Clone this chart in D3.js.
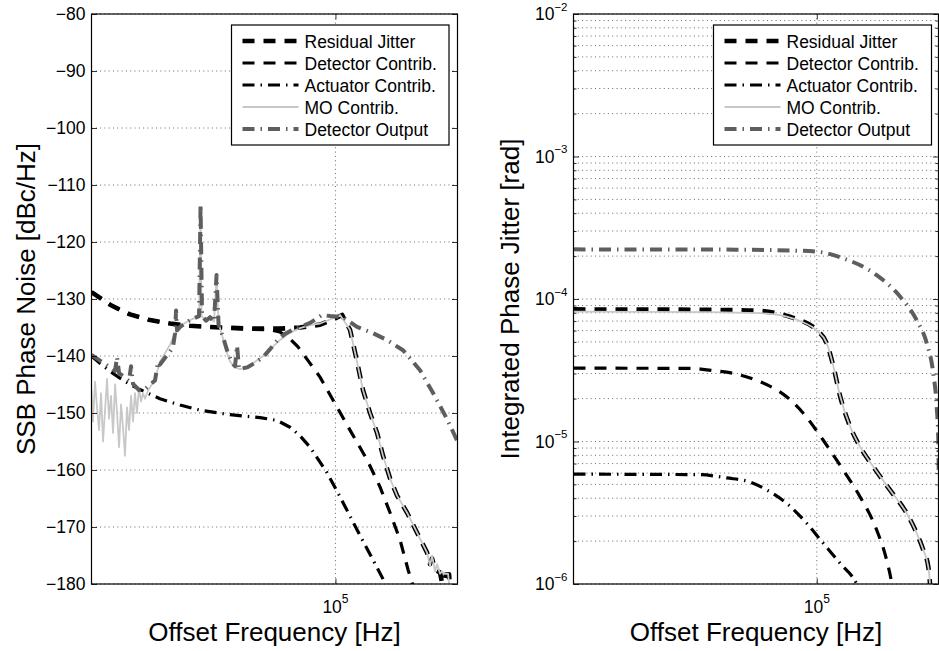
<!DOCTYPE html>
<html>
<head>
<meta charset="utf-8">
<script src="https://cdn.jsdelivr.net/npm/d3@7"></script>
<style>
  body { margin: 0; background: #fff; }
  text { font-family: "Liberation Sans", Arial, Helvetica, sans-serif; fill: #000; }
</style>
</head>
<body>
<svg id="fig" width="939" height="651"></svg>
<script>
// ---- axis settings -------------------------------------------------------
const freqDomain = [1.25e4, 2.83e5];
const freqTicks = [1e5];
const psdTicks = [-180, -170, -160, -150, -140, -130, -120, -110, -100, -90, -80];
const jitterDomain = [1e-6, 1e-2];
const jitterDecades = [1e-6, 1e-5, 1e-4, 1e-3, 1e-2];
const legendLabels = ["Residual Jitter", "Detector Contrib.", "Actuator Contrib.", "MO Contrib.", "Detector Output"];

// ---- SSB phase noise, [frequency Hz, dBc/Hz] -----------------------------
const psdResidual = [
  [12500, -128.8], [13440, -129.8], [14640, -131.0], [15940, -131.9], [17360, -132.7],
  [20590, -133.7], [24420, -134.3], [28950, -134.7], [37390, -135.0], [48280, -135.2],
  [62350, -135.2], [73930, -135.0], [87690, -134.5], [99660, -133.4], [105800, -132.8],
  [113200, -135.4], [120200, -141], [126500, -146], [134300, -150], [142600, -153.5],
  [150000, -157.5], [159300, -161.5], [169100, -164.5], [184200, -167.5], [200500, -171],
  [218300, -174.5], [223900, -176.5], [227800, -175.5], [233700, -177.5], [243900, -178],
  [248100, -179.8], [252400, -179.8], [256700, -178.3], [263400, -178.3], [265600, -181]
];
const psdDetector = [
  [12500, -128.8], [13440, -129.8], [14640, -131.0], [15940, -131.9], [17360, -132.7],
  [20590, -133.7], [24420, -134.3], [28950, -134.7], [37390, -135.0], [48280, -135.3],
  [57270, -135.4], [62350, -135.8], [67900, -137.0], [72680, -138.4], [80540, -141.3],
  [87690, -143.7], [101400, -149], [113200, -153], [130900, -158.2], [146300, -163],
  [159300, -167.5], [173500, -172.3], [185700, -177.5], [192200, -179.8], [195400, -181]
];
const psdActuator = [
  [12500, -140.0], [13440, -141.3], [14640, -142.7], [15940, -143.9], [17360, -145.0],
  [19730, -146.3], [22410, -147.5], [26590, -148.6], [31530, -149.5], [40720, -150.3],
  [52590, -150.8], [60790, -151.3], [67900, -152.5], [73930, -154], [80540, -156],
  [93090, -160.5], [104000, -164.7], [120200, -170.5], [137800, -175.8], [152600, -179.8],
  [156600, -181]
];
const psdMO = [
  [12500, -146], [12660, -151.5], [12880, -144.5], [13100, -149], [13330, -153],
  [13560, -146.5], [13790, -155], [14030, -149.5], [14270, -144], [14510, -151],
  [14760, -147], [15020, -153.5], [15280, -145], [15540, -150], [15810, -156],
  [16080, -148.5], [16350, -152.5], [16630, -157.5], [16920, -149], [17210, -153],
  [17510, -147], [17810, -151.5], [18110, -146.5], [18420, -150], [18740, -145.5],
  [19060, -148], [19390, -146.5], [19730, -147.5], [20240, -146], [20590, -145.5],
  [21480, -144], [22410, -141], [23400, -139.5], [24420, -138], [25480, -136],
  [26590, -134.8], [27750, -134.2], [28950, -133.7], [30210, -133.3], [31260, -133],
  [31670, -114], [31940, -133], [32900, -133.6], [34340, -133.1], [35520, -134],
  [36290, -126], [36920, -134.3], [38040, -136.3], [39360, -139], [40720, -141],
  [42490, -142], [44340, -142.3], [47070, -142], [50390, -141], [53940, -140],
  [57270, -138.8], [62350, -137.2], [67900, -135.9], [73930, -135.1], [80540, -134.6],
  [87690, -134.3], [95500, -133.6], [104000, -132.8], [113200, -135.4], [120200, -141],
  [126500, -146], [134300, -150], [142600, -153.5], [150000, -157.5], [159300, -161.5],
  [169100, -164.5], [184200, -167.5], [200500, -171], [218300, -174.5], [223900, -176.8],
  [227800, -175], [233700, -177.8], [237700, -176.5], [243900, -178.2], [248100, -177.8],
  [252400, -178.2], [261200, -178.2], [264500, -181]
];
const psdDetOut = [
  [12500, -139.8], [13440, -140.8], [14640, -142.0], [15280, -142.6], [15540, -140.2],
  [15810, -143.0], [16630, -143.8], [17210, -144.4], [17510, -141.8], [17810, -144.9],
  [18740, -146], [19730, -145.8], [20590, -145], [21480, -144.3], [22040, -141.0],
  [22410, -141.5], [23400, -140.3], [24420, -139.2], [25040, -138.4], [25480, -136],
  [25700, -132], [25920, -135.5], [26590, -134.9], [27750, -134.3], [28950, -133.7],
  [30210, -133.3], [31260, -133], [31670, -113.5], [32070, -133], [33180, -133.8],
  [34340, -133.2], [35520, -134], [36290, -125.8], [36920, -134.5], [38360, -136.7],
  [39690, -139], [41420, -141.2], [42490, -141.8], [43220, -138.2], [43970, -142.3],
  [47070, -142], [50390, -141.2], [53940, -140.2], [57270, -138.8], [61000, -137.2],
  [64740, -136.2], [69300, -135.4], [80540, -134.2], [89190, -132.8], [95500, -133],
  [106700, -133.2], [120200, -134.9], [137800, -136], [155200, -137.2], [177900, -139],
  [205700, -142.5], [229800, -146.5], [259800, -151.2], [283000, -155]
];

// ---- integrated phase jitter, [frequency Hz, rad] ------------------------
const jitResidual = [
  [12500, 8.45e-5], [30000, 8.42e-5], [50000, 8.35e-5], [61500, 8.25e-5], [73000, 7.85e-5],
  [79500, 7.5e-5], [86600, 7.1e-5], [100000, 6.05e-5], [108800, 4.9e-5], [115100, 3.4e-5],
  [121900, 2.1e-5], [132800, 1.28e-5], [144700, 9.2e-6], [162100, 6.65e-6], [186900, 4.57e-6],
  [215700, 3.13e-6], [234900, 2.27e-6], [248500, 1.73e-6], [259400, 1.32e-6], [263200, 1.0e-6],
  [266000, 7e-7]
];
const jitDetector = [
  [12500, 3.27e-5], [34700, 3.26e-5], [39000, 3.18e-5], [51900, 2.93e-5], [61500, 2.63e-5],
  [77300, 2.06e-5], [89100, 1.58e-5], [105700, 1.02e-5], [125400, 6.3e-6], [144700, 4.1e-6],
  [166900, 2.39e-6], [181700, 1.47e-6], [189700, 1.0e-6], [193000, 7.7e-7]
];
const jitActuator = [
  [12500, 5.9e-6], [36800, 5.85e-6], [46300, 5.55e-6], [56500, 5.2e-6], [65200, 4.57e-6],
  [77300, 3.68e-6], [91700, 2.67e-6], [105700, 1.93e-6], [121900, 1.4e-6], [140600, 1.0e-6],
  [146000, 8.5e-7]
];
const jitMO = [
  [12500, 8.15e-5], [40000, 8.1e-5], [61500, 7.95e-5], [73000, 7.7e-5], [86600, 7.0e-5],
  [100000, 6.0e-5], [108800, 4.9e-5], [115100, 3.4e-5], [121900, 2.1e-5], [132800, 1.28e-5],
  [144700, 9.2e-6], [162100, 6.65e-6], [186900, 4.57e-6], [215700, 3.13e-6], [234900, 2.27e-6],
  [248500, 1.73e-6], [259400, 1.32e-6], [263200, 1.0e-6], [266000, 7e-7]
];
const jitDetOut = [
  [12500, 2.23e-4], [50000, 2.22e-4], [80000, 2.19e-4], [100000, 2.15e-4], [125400, 1.93e-4],
  [166900, 1.47e-4], [203700, 1.04e-4], [234900, 7.1e-5], [255900, 4.9e-5], [270700, 3.0e-5],
  [278700, 1.75e-5], [282500, 1.02e-5], [283500, 6e-6]
];

// ---- line styles (legend order) ------------------------------------------
const lineStyles = [
  { color: "#000000", width: 4.6, dash: "12,9" },
  { color: "#000000", width: 3.2, dash: "12,9" },
  { color: "#000000", width: 3.2, dash: "12,6,1.5,6" },
  { color: "#c8c8c8", width: 1.8, dash: null },
  { color: "#5e5e5e", width: 4.0, dash: "12,6,1.5,6" }
];

const svg = d3.select("#fig");
const FONT = 17.5;
const TITLE_FONT = 26;

function drawPanel(opt) {
  const { left, right, top, bottom } = opt.box;
  const x = d3.scaleLog().domain(freqDomain).range([left, right]);
  const y = opt.y;
  const g = svg.append("g");
  const clipId = "clip" + opt.id;
  svg.append("clipPath").attr("id", clipId)
    .append("rect").attr("x", left).attr("y", top)
    .attr("width", right - left).attr("height", bottom - top);

  // dotted grid
  const grid = g.append("g").attr("stroke", "#444").attr("stroke-width", 0.8)
    .attr("stroke-dasharray", "1,3.3").attr("fill", "none");
  opt.gridY.forEach(v => {
    grid.append("line").attr("x1", left).attr("x2", right)
      .attr("y1", y(v)).attr("y2", y(v));
  });
  freqTicks.forEach(v => {
    grid.append("line").attr("y1", top).attr("y2", bottom)
      .attr("x1", x(v)).attr("x2", x(v));
  });

  // curves
  const line = d3.line().x(d => x(d[0])).y(d => y(d[1])).curve(opt.curve);
  const curves = g.append("g").attr("clip-path", `url(#${clipId})`);
  opt.series.forEach((s, i) => {
    const st = lineStyles[i];
    curves.append("path").datum(s)
      .attr("d", line).attr("fill", "none")
      .attr("stroke", st.color).attr("stroke-width", st.width)
      .attr("stroke-dasharray", st.dash).attr("stroke-linejoin", "round");
  });

  // axes with inward ticks on all sides
  const axisG = g.append("g");
  const yAxisL = d3.axisLeft(y).tickValues(opt.majorY).tickSizeInner(-5.5).tickSizeOuter(0).tickFormat("");
  const yAxisR = d3.axisRight(y).tickValues(opt.majorY).tickSizeInner(-5.5).tickSizeOuter(0).tickFormat("");
  const xAxisB = d3.axisBottom(x).tickValues(freqTicks).tickSizeInner(-5.5).tickSizeOuter(0).tickFormat("");
  const xAxisT = d3.axisTop(x).tickValues(freqTicks).tickSizeInner(-5.5).tickSizeOuter(0).tickFormat("");
  axisG.append("g").attr("transform", `translate(${left},0)`).call(yAxisL);
  axisG.append("g").attr("transform", `translate(${right},0)`).call(yAxisR);
  axisG.append("g").attr("transform", `translate(0,${bottom})`).call(xAxisB);
  axisG.append("g").attr("transform", `translate(0,${top})`).call(xAxisT);
  if (opt.minorY) {
    const mL = d3.axisLeft(y).tickValues(opt.minorY).tickSizeInner(-3).tickSizeOuter(0).tickFormat("");
    const mR = d3.axisRight(y).tickValues(opt.minorY).tickSizeInner(-3).tickSizeOuter(0).tickFormat("");
    axisG.append("g").attr("transform", `translate(${left},0)`).call(mL);
    axisG.append("g").attr("transform", `translate(${right},0)`).call(mR);
  }
  axisG.selectAll(".domain").remove();
  axisG.selectAll(".tick line").attr("stroke", "#000").attr("stroke-width", 0.8);

  // axes box
  g.append("rect").attr("x", left).attr("y", top)
    .attr("width", right - left).attr("height", bottom - top)
    .attr("fill", "none").attr("stroke", "#000").attr("stroke-width", 1.2);

  // y tick labels
  opt.majorY.forEach(v => {
    const t = g.append("text").attr("x", left - 6).attr("y", y(v) + 6)
      .attr("text-anchor", "end").attr("font-size", FONT);
    opt.yLabel(t, v);
  });

  // x tick labels (powers of ten)
  freqTicks.forEach(v => {
    const t = g.append("text").attr("x", x(v)).attr("y", bottom + 29)
      .attr("text-anchor", "middle").attr("font-size", FONT);
    t.append("tspan").text("10");
    t.append("tspan").attr("dy", -10).attr("font-size", 12)
      .text(String(Math.round(Math.log10(v))));
  });

  // axis titles
  g.append("text").attr("x", (left + right) / 2).attr("y", 641)
    .attr("text-anchor", "middle").attr("font-size", TITLE_FONT).text("Offset Frequency [Hz]");
  g.append("text").attr("transform", `translate(${opt.yTitleX},${(top + bottom) / 2}) rotate(-90)`)
    .attr("text-anchor", "middle").attr("font-size", TITLE_FONT).text(opt.yTitle);

  // legend
  const lg = opt.legend;
  g.append("rect").attr("x", lg.x).attr("y", lg.y).attr("width", lg.w).attr("height", lg.h)
    .attr("fill", "#fff").attr("stroke", "#000").attr("stroke-width", 1.2);
  legendLabels.forEach((name, i) => {
    const cy = lg.y + 16 + i * 22;
    const st = lineStyles[i];
    g.append("line").attr("x1", lg.x + 11).attr("x2", lg.x + 67)
      .attr("y1", cy).attr("y2", cy)
      .attr("stroke", st.color).attr("stroke-width", st.width)
      .attr("stroke-dasharray", st.dash);
    g.append("text").attr("x", lg.x + 73).attr("y", cy + 6.5)
      .attr("font-size", 17.5).text(name);
  });
}

// left panel: SSB phase noise
const yPsd = d3.scaleLinear().domain([-180, -80]).range([584, 14]);
drawPanel({
  id: "L",
  box: { left: 91.5, right: 457.5, top: 14, bottom: 584 },
  y: yPsd,
  curve: d3.curveLinear,
  gridY: psdTicks,
  majorY: psdTicks,
  series: [psdResidual, psdDetector, psdActuator, psdMO, psdDetOut],
  yLabel: (t, v) => t.text(v < 0 ? "\u2212" + Math.abs(v) : String(v)),
  yTitle: "SSB Phase Noise [dBc/Hz]",
  yTitleX: 35,
  legend: { x: 231.5, y: 25, w: 217.5, h: 120 }
});

// right panel: integrated phase jitter
const yJit = d3.scaleLog().domain(jitterDomain).range([584, 14]);
const minorJit = [];
jitterDecades.slice(0, -1).forEach(d => { for (let k = 2; k <= 9; k++) minorJit.push(d * k); });
drawPanel({
  id: "R",
  box: { left: 573.5, right: 938.5, top: 14, bottom: 584 },
  y: yJit,
  curve: d3.curveMonotoneX,
  gridY: jitterDecades.concat(minorJit),
  majorY: jitterDecades,
  minorY: minorJit,
  series: [jitResidual, jitDetector, jitActuator, jitMO, jitDetOut],
  yLabel: (t, v) => {
    t.append("tspan").text("10");
    t.append("tspan").attr("dy", -9.5).attr("font-size", 11.5)
      .text("\u2212" + Math.abs(Math.round(Math.log10(v))));
  },
  yTitle: "Integrated Phase Jitter [rad]",
  yTitleX: 519,
  legend: { x: 713.5, y: 25, w: 218, h: 120 }
});
</script>
</body>
</html>
